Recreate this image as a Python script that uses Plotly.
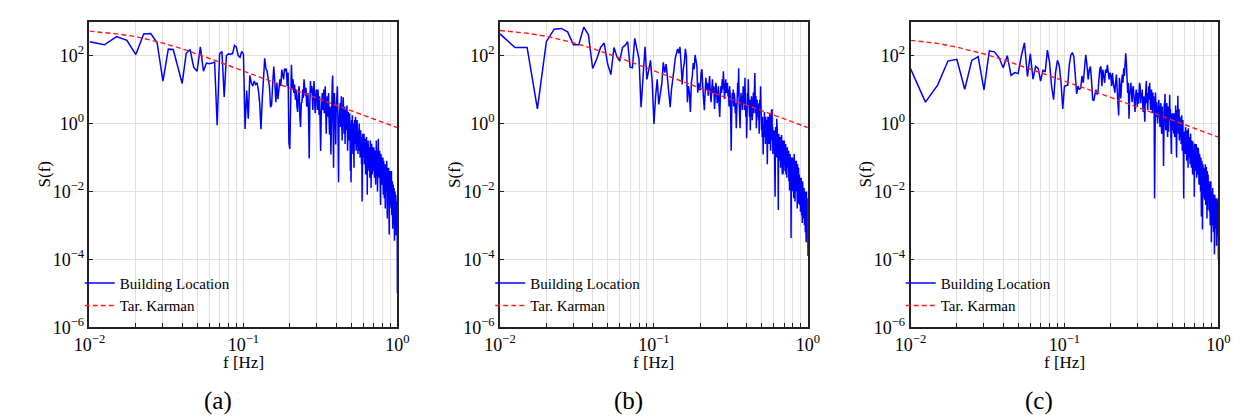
import plotly.graph_objects as go

# ---------------- data (log10 of S(f)) ----------------
# FFT bins: f = 0.0025*k Hz, k = 4 .. 400  (0.01 .. 1.0 Hz)
F_STEP = 0.0025
K_START = 4

bl_a = [
    2.41, 2.32, 2.56, 2.45, 2.03, 2.64, 2.65, 2.38, 1.25, 2.19,
    2.18, 1.70, 1.18, 2.07, 2.18, 1.66, 1.54, 2.26, 1.54, 1.78,
    1.76, 1.78, 1.81, -0.05, 2.05, 2.12, 0.78, 2.00, 2.05, 2.04,
    2.06, 2.30, 2.25, 2.00, 1.95, 2.12, 2.05, -0.16, 0.97, 0.14,
    1.42, 1.20,
    1.1, 1.25, 1.15, 1.2, 1.0, 0.6, -0.17, 0.72, 1.5, 1.92,
    1.62, 1.55, 1.3, 1.1, 0.48, 0.55, 1.2, 1.68, 1.2, 0.63,
    1.2, 0.72, 1.0, 1.3, 1.1, 1.59, 1.44, 1.3, 1.62, 1.54,
    1.62, 1.1, 1.5, -0.57,
    -0.75, 1.2, 1.73, 1.0, 1.3, 0.9, 1.15, 0.7, 1.0, 0.5,
    0.34, 0.9, 1.1, 0.2, -0.1, 0.6, 0.63, 1.0, 0.75, 1.3,
    1.1, 0.82, 1.05, 0.5, 0.63, 0.9, 0.2, -1.03, 0.6, 1.25,
    0.9, 1.1, 0.82, 0.4, 1.0, 1.25, 0.7, 0.3, 0.72, 1.0,
    0.9, 0.4, 1.0, 0.6, 0.25, 0.8, 0.3, -0.81, 0.2, 0.7,
    0.9, 0.4, 0.6, 1.0, 0.3, 0.5, 1.1, 0.6, -0.3, 0.4,
    0.8, 0.2, 0.55, 0.9, 0.1, -0.33, 0.5, 0.3, -0.91, 0.2,
    0.8, 1.2, 1.41, 0.6, -1.3, 0.3, 0.9, 0.5, 0.1, -0.62,
    0.3, 0.7, 0.9, 1.1, 0.4, -0.2, -1.73, 0.0, 0.5, 0.2,
    0.6, -0.1, 0.3, 0.8, 0.1, -0.5, 0.4, 0.2, 0.77, 0.3,
    -0.3, 0.1, 0.5, -0.6, 0.2, 0.0, 0.4, -0.2, 0.53, 0.1,
    -0.8, 0.2, 0.35, -0.3, 0.1, -0.5, 0.3, -0.1, -1.4, 0.0,
    -1.73, -0.2, 0.1, -0.4, 0.24, -0.3, -0.9, 0.0, -0.5, -1.3,
    -0.2, 0.1, -0.6, -0.3, 0.2, -0.4, -0.8, -0.1, -0.5, 0.1,
    -0.6, -0.3, -0.9, -0.2, -0.8, -0.4, 0.0, -0.7, -0.3, -1.0,
    -0.5, -0.2, -0.9, -0.4, -1.2, -0.6, -2.3, -0.5, -0.3, -0.8,
    -0.5, -1.0, -0.6, -0.3, -1.2, -0.7, -0.45, -1.1, -0.8, -1.5,
    -0.6, -0.9, -0.4, -1.3, -0.8, -2.1, -0.7, -1.0, -0.5, -1.2,
    -0.9, -0.6, -1.4, -1.0, -0.7, -1.6, -0.9, -0.5, -1.1, -0.8,
    -1.9, -1.0, -0.6, -1.3, -0.9, -1.5, -0.7, -1.2, -0.9, -1.4,
    -1.0, -0.7, -1.3, -0.9, -1.6, -1.1, -0.8, -1.4, -1.0, -1.8,
    -1.2, -0.9, -0.5, -1.1, -1.5, -0.8, -1.2, -2.0, -1.0, -1.3,
    -0.7, -0.45, -1.0, -1.4, -0.9, -1.6, -1.2, -0.8, -1.3, -1.7,
    -1.1, -2.4, -1.3, -0.9, -1.5, -1.2, -1.8, -1.0, -1.4, -1.1,
    -1.3, -1.8, -1.0, -1.5, -2.1, -1.4, -1.1, -1.7, -1.3, -2.2,
    -1.5, -1.2, -1.9, -1.4, -2.5, -1.6, -1.2, -1.8, -1.4, -2.0,
    -1.5, -1.1, -1.7, -2.3, -2.8, -1.6, -1.3, -1.9, -1.5, -2.2,
    -1.7, -1.3, -2.0, -1.6, -3.27, -1.8, -1.4, -2.1, -1.7, -2.4,
    -1.6, -2.2, -1.4, -1.9, -2.5, -1.8, -1.4, -2.1, -2.7, -1.9,
    -2.3, -1.7, -2.4, -3.1, -2.0, -2.5, -1.8, -2.2, -2.8, -2.1,
    -2.6, -1.9, -2.4, -3.45, -2.2, -2.7, -2.0, -2.5, -3.0, -2.3,
    -2.8, -2.1, -2.6, -3.3, -2.4, -2.9, -2.3, -2.7, -3.2, -2.6,
    -5.0,
]

bl_b = [
    2.64, 2.24, 2.24, 0.43, 2.41, 2.78, 2.80, 2.70, 2.32, 2.32,
    2.84, 2.62, 1.62, 1.90, 2.24, 2.37, 1.76, 1.44, 2.24, 1.97,
    1.84, 2.24, 2.30, 2.41, 1.66, 1.64, 2.51, 2.20, 1.90, 0.48,
    1.50, 2.26, 1.30, 1.60, 1.86, 1.20, -0.01, 0.80, 1.30, 0.56,
    0.90, 1.18,
    1.8, 1.5, 1.75, 1.3, 0.9, 0.48, 1.0, 1.4, 1.6, 1.92,
    2.1, 2.2, 2.07, 2.26, 1.78, 1.15, 1.6, 1.78, 2.2, 1.97,
    0.63, 1.1, 0.9, 0.34, 1.2, 1.4, 1.78, 1.6, 2.02, 1.83,
    1.7, 0.91, 1.2, 1.0,
    1.0, 1.49, 1.6, 1.1, 0.8, 0.39, 0.9, 1.35, 1.0, 1.2,
    0.82, 1.1, 1.4, 0.9, 0.63, 1.0, 1.3, 0.9, 1.1, 0.43,
    0.8, 1.2, 1.0, 0.6, 0.72, 1.1, 0.5, 0.19, 0.8, 1.1,
    0.9, 1.3, 1.0, 1.54, 1.1, 0.72, 1.0, 1.3, 0.9, 1.15,
    1.2, 0.8, 1.0, 0.5, 1.1, 0.87, 0.3, -0.8, 0.4, 0.9,
    0.63, 1.0, 0.5, 0.9, 0.72, 0.3, 0.6, -0.14, 0.5, 0.9,
    1.2, 0.8, 1.63, 0.7, 0.3, -0.14, 0.5, 0.9, 0.6, 0.82,
    0.4, 0.8, 1.1, 0.6, 0.9, 0.4, 1.35, 0.7, 0.2, 0.5,
    -0.43, 0.4, 0.9, 0.5, 1.3, 0.8, 0.63, 0.2, 0.7, -0.2,
    0.5, 0.24, 0.8, 0.4, 0.1, 0.7, 0.5, 0.91, 0.3, 0.6,
    1.2, 1.49, 0.7, 0.3, 0.8, -0.14, 0.4, 0.7, 0.2, 0.5,
    0.53, 0.1, 0.6, -0.3, 0.3, 0.7, 0.4, 1.1, 0.5, 0.1,
    -0.2, 0.07, -0.4, 0.2, -0.3, -0.91, -0.1, 0.3, -0.2, 0.34,
    -0.4, 0.0, -0.6, 0.2, -0.14, -0.5, 0.1, -0.3, -1.2, -0.2,
    0.2, -0.4, 0.0, 0.2, -0.6, -0.1, 0.3, -0.5, -0.25, -0.8,
    0.1, -0.3, 0.4, -0.2, 0.43, -0.5, -0.1, -0.9, -0.3, -0.6,
    -0.3, -0.8, -0.2, -0.6, -1.2, -2.16, -0.5, -0.1, -0.7, -0.3,
    -1.0, 0.14, -0.6, -0.2, -0.9, -0.4, -1.4, -2.55, -0.8, -0.3,
    -0.7, -1.1, -0.5, -0.53, -1.0, -0.4, -1.3, -0.7, -0.35, -0.9,
    -0.34, -1.2, -0.6, -1.5, -0.8, -0.5, -1.49, -0.9, -1.2, -0.6,
    -0.9, -0.5, -1.0, -0.72, -1.4, -0.8, -1.1, -0.6, -1.5, -0.9,
    -1.2, -0.8, -1.6, -1.0, -0.7, -1.3, -0.9, -0.91, -1.4, -1.1,
    -0.8, -1.7, -1.2, -1.0, -1.97, -1.3, -0.9, -1.5, -1.1, -1.8,
    -1.3, -3.37, -1.4, -1.0, -1.6, -1.2, -2.0, -1.3, -1.0, -1.5,
    -1.3, -1.8, -1.1, -1.5, -2.2, -1.4, -0.9, -1.6, -1.2, -1.78,
    -2.3, -1.4, -1.1, -1.7, -1.3, -2.0, -1.5, -1.1, -1.49, -1.9,
    -1.4, -2.5, -1.6, -1.2, -1.8, -1.5, -2.36, -1.7, -1.3, -2.0,
    -1.6, -2.2, -1.5, -1.88, -2.4, -1.7, -2.1, -1.6, -2.6, -1.9,
    -1.8, -2.3, -1.6, -2.1, -2.7, -1.9, -2.4, -2.0, -2.93, -2.2,
    -1.7, -2.5, -2.0, -2.3, -2.8, -2.1, -2.16, -2.6, -1.9, -2.4,
    -3.0, -2.2, -2.7, -2.0, -2.5, -3.2, -2.3, -2.8, -2.1, -2.6,
    -3.5, -2.4, -2.0, -2.7, -2.3, -3.4, -2.5, -2.9, -2.2, -3.0,
    -3.9,
]

bl_c = [
    1.62, 0.63, 1.13, 1.84, 1.89, 1.01, 1.86, 1.97, 0.99, 2.14,
    2.11, 1.95, 1.64, 2.00, 1.42, 1.50, 1.47, 2.00, 2.38, 1.38,
    2.05, 1.31, 1.68, 1.62, 1.25, 1.57, 1.52, 2.16, 1.80, 1.09,
    0.70, 1.50, 1.86, 1.71, 1.20, 0.43, 1.10, 1.12, 1.13, 1.73,
    2.02, 2.09,
    1.97, 1.44, 0.87, 1.1, 1.0, 1.05, 1.4, 1.2, 1.63, 2.02,
    1.73, 1.3, 1.59, 1.68, 1.25, 0.7, 0.67, 0.9, 1.0, 0.86,
    0.9, 1.3, 1.63, 1.68, 1.1, 1.59, 1.4, 1.2, 1.59, 1.49,
    1.73, 1.4, 1.3, 1.5,
    1.4, 1.1, 1.49, 1.2, 0.96, 0.91, 1.2, 1.44, 1.0, 0.7,
    0.24, 1.35, 1.1, 0.74, 1.2, 1.44, 1.2, 1.63, 1.4, 2.02,
    2.07, 1.78, 1.4, 0.9, 1.2, 0.14, 0.8, 1.0, 1.2, 0.9,
    0.63, 1.0, 1.1, 0.82, 0.6, 0.34, 0.8, 1.0, 0.87, 0.5,
    0.9, 0.58, 0.9, 1.2, 1.1, 0.6, 0.9, 0.72, 1.0, 0.5,
    0.34, 0.8, 0.5, 0.05, 0.7, 1.0, 1.25, 0.6, 0.9, 0.4,
    0.82, 1.1, 0.7, 1.2, 0.8, 0.4, 0.63, 1.0, 0.6, 0.3,
    0.91, 0.5, 0.8, 0.3, -2.21, 0.4, 0.91, 0.5, 0.2, 0.63,
    0.3, 0.0, 0.5, 0.2, 0.7, 0.3, 0.58, -0.1, 0.4, 0.6,
    0.2, -0.3, 0.3, 0.5, -0.3, 0.1, -1.25, 0.2, 0.6, 0.4,
    0.87, 0.3, -0.2, -0.14, 0.3, 0.6, 0.24, -0.4, 0.2, 0.5,
    -0.24, 0.3, 0.1, 0.85, 0.2, 0.43, -0.3, 0.1, -0.9, 0.3,
    0.1, 0.24, -0.2, 0.3, 0.0, -0.3, -0.05, 0.3, -0.4, 0.2,
    -0.2, 0.53, -0.3, -0.6, -1.0, 0.0, 0.4, -0.2, 0.82, 0.1,
    -0.3, 0.2, 0.43, -0.5, -0.1, 0.2, -0.4, -0.24, 0.1, -0.6,
    0.0, 0.24, -0.3, -0.8, -0.2, 0.1, -0.5, -1.0, -2.21, -0.4,
    -0.3, -0.7, -0.24, -0.9, -0.5, -0.1, -0.8, -0.4, -0.63, -1.1,
    -0.5, -0.2, -0.9, -0.5, -1.3, -0.14, -0.6, -0.9, -0.4, -1.0,
    -0.7, -0.53, -1.2, -0.6, -0.3, -0.9, -0.6, -1.3, -0.8, -0.5,
    -1.1, -0.7, -1.5, -0.53, -0.9, -1.2, -0.7, -1.4, -1.0, -2.16,
    -1.0, -0.6, -1.2, -0.8, -0.91, -1.4, -0.9, -0.6, -1.1, -1.6,
    -1.3, -0.9, -1.2, -0.7, -1.5, -1.0, -0.72, -1.3, -0.9, -1.8,
    -1.1, -1.4, -0.9, -1.6, -1.49, -1.1, -2.0, -1.3, -1.0, -1.7,
    -2.74, -1.4, -1.1, -1.9, -1.3, -3.12, -1.6, -1.2, -1.8, -1.4,
    -1.49, -1.9, -1.3, -1.7, -2.2, -1.5, -1.9, -2.26, -1.6, -1.2,
    -1.8, -2.4, -1.5, -1.3, -1.3, -2.0, -1.6, -2.8, -1.7, -1.4,
    -2.1, -2.55, -1.8, -1.5, -2.2, -1.9, -1.78, -2.4, -1.7, -2.0,
    -2.6, -1.8, -2.36, -2.0, -3.0, -1.9, -2.3, -1.7, -2.5, -2.1,
    -3.5, -2.2, -2.7, -2.0, -2.5, -3.0, -2.3, -1.9, -2.6, -2.2,
    -2.84, -2.4, -3.2, -2.1, -2.6, -2.3, -2.9, -3.85, -2.5, -2.1,
    -2.7, -2.4, -3.1, -2.2, -2.6, -2.45, -3.0, -2.3, -2.8, -3.6,
    -2.5, -2.9, -2.2, -3.22, -2.6, -3.0, -2.4, -3.3, -2.7, -2.3,
    -4.0,
]

# Target von Karman spectrum (log10 S)
karman_f = [0.01, 0.015, 0.02, 0.03, 0.04, 0.05, 0.06, 0.08, 0.1, 0.15,
            0.2, 0.3, 0.4, 0.5, 0.6, 0.7, 0.8, 0.9, 1.0]
karman_a = [2.72, 2.64, 2.56, 2.37, 2.20, 2.05, 1.92, 1.71, 1.54, 1.25,
            1.04, 0.75, 0.54, 0.38, 0.25, 0.14, 0.04, -0.04, -0.12]
karman_b = [2.74, 2.66, 2.57, 2.38, 2.21, 2.06, 1.93, 1.72, 1.55, 1.26,
            1.04, 0.75, 0.54, 0.38, 0.25, 0.14, 0.04, -0.04, -0.12]
karman_c = [2.45, 2.36, 2.25, 2.05, 1.88, 1.73, 1.61, 1.41, 1.26, 0.97,
            0.77, 0.48, 0.27, 0.11, -0.02, -0.13, -0.23, -0.32, -0.40]

captions = ["(a)", "(b)", "(c)"]
series_names = ["Building Location", "Tar. Karman"]

x_tickvals = [0.01, 0.02, 0.03, 0.04, 0.05, 0.06, 0.07, 0.08, 0.09,
              0.1, 0.2, 0.3, 0.4, 0.5, 0.6, 0.7, 0.8, 0.9, 1.0]
x_ticktext = ["10<sup>−2</sup>"] + [""] * 8 + ["10<sup>−1</sup>"] + [""] * 8 + ["10<sup>0</sup>"]
y_tickvals = [1e-6, 1e-4, 1e-2, 1, 1e2]
y_ticktext = ["10<sup>−6</sup>", "10<sup>−4</sup>", "10<sup>−2</sup>", "10<sup>0</sup>", "10<sup>2</sup>"]

# ---------------- layout geometry (pixels) ----------------
W, H = 1240, 420
plot_x = [(67, 382), (487, 802), (907, 1222)]
plot_y = (14, 327)
caption_x = [198, 618, 1038]

FONT = "Liberation Serif"

fig = go.Figure()
layout = dict(
    width=W, height=H,
    margin=dict(l=0, r=0, t=0, b=0),
    paper_bgcolor="white", plot_bgcolor="white",
    font=dict(family=FONT, color="black"),
    showlegend=True,
)
annotations = []

panels = [(bl_a, karman_a), (bl_b, karman_b), (bl_c, karman_c)]
for i, (bl, km) in enumerate(panels):
    sfx = "" if i == 0 else str(i + 1)
    xa, ya, lg = "x" + sfx, "y" + sfx, "legend" + sfx
    freq = [F_STEP * (K_START + j) for j in range(len(bl))]
    fig.add_trace(go.Scatter(
        x=freq, y=[10 ** v for v in bl], mode="lines",
        line=dict(color="#0000ff", width=1.5),
        name=series_names[0], xaxis=xa, yaxis=ya, legend=lg))
    fig.add_trace(go.Scatter(
        x=karman_f, y=[10 ** v for v in km], mode="lines",
        line=dict(color="#ff1a1a", width=1.4, dash="5px,3px"),
        name=series_names[1], xaxis=xa, yaxis=ya, legend=lg))

    x0, x1 = plot_x[i]
    common = dict(
        type="log", showline=True, linecolor="#222", linewidth=1.6, mirror=True,
        ticks="inside", ticklen=4, tickwidth=1, tickcolor="#222",
        showgrid=True, gridcolor="#e0e0e0", gridwidth=1, zeroline=False,
        tickfont=dict(family=FONT, size=18, color="black"),
    )
    layout["xaxis" + sfx] = dict(
        common, range=[-2, 0], domain=[x0 / W, x1 / W], anchor=ya,
        tickmode="array", tickvals=x_tickvals, ticktext=x_ticktext)
    layout["yaxis" + sfx] = dict(
        common, range=[-6, 3], domain=[1 - plot_y[1] / H, 1 - plot_y[0] / H], anchor=xa,
        tickmode="array", tickvals=y_tickvals, ticktext=y_ticktext)
    layout[lg] = dict(
        x=(x0 - 10) / W, y=1 - 265 / H, xanchor="left", yanchor="top",
        bgcolor="rgba(0,0,0,0)", borderwidth=0,
        font=dict(family=FONT, size=15, color="black"), tracegroupgap=0)

    # axis titles and caption
    annotations.append(dict(text="f [Hz]", x=(x0 + x1) / 2 / W, y=1 - 363 / H,
                            xref="paper", yref="paper", showarrow=False,
                            xanchor="center", yanchor="middle",
                            font=dict(family=FONT, size=17, color="black")))
    annotations.append(dict(text="S(f)", x=(x0 - 46) / W, y=1 - 171 / H,
                            xref="paper", yref="paper", showarrow=False, textangle=-90,
                            xanchor="center", yanchor="middle",
                            font=dict(family=FONT, size=17, color="black")))
    annotations.append(dict(text=captions[i], x=caption_x[i] / W, y=1 - 403 / H,
                            xref="paper", yref="paper", showarrow=False,
                            xanchor="center", yanchor="middle",
                            font=dict(family=FONT, size=25, color="black")))

layout["annotations"] = annotations
fig.update_layout(**layout)
fig.write_html("out.html")
